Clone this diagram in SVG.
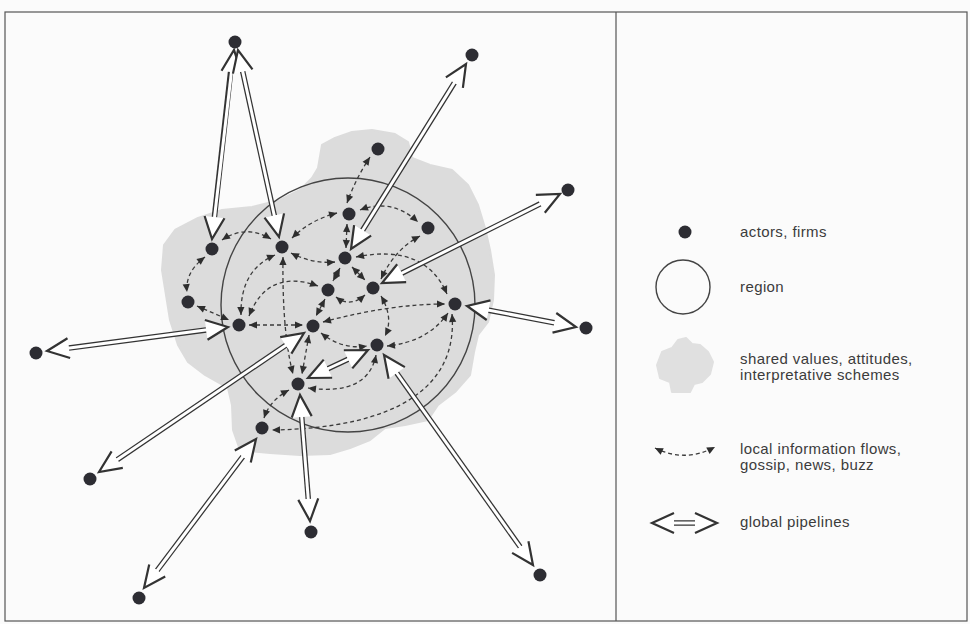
<svg xmlns="http://www.w3.org/2000/svg" width="970" height="624" viewBox="0 0 970 624">
<style>
.bg{fill:#fbfbfb}
.frame{fill:none;stroke:#555;stroke-width:1.2}
.blob{fill:#dcdcdc;stroke:#dcdcdc;stroke-width:2;stroke-linejoin:round}
.region{fill:none;stroke:#444;stroke-width:1.4}
.actor{fill:#2d2d33}
.flow{fill:none;stroke:#3a3a3a;stroke-width:1.3;stroke-dasharray:4 3;marker-start:url(#da);marker-end:url(#da)}
.pipeOut{fill:none;stroke:#333;stroke-width:5.5}
.pipeIn{fill:none;stroke:#fff;stroke-width:3;marker-start:url(#ph);marker-end:url(#ph)}
.lbl{font-family:"Liberation Sans",Arial,sans-serif;font-size:15px;letter-spacing:0.4px;fill:#3c3c3c}
</style>
<defs>
<marker id="da" markerUnits="userSpaceOnUse" orient="auto-start-reverse" refX="0" refY="0" markerWidth="12" markerHeight="12" overflow="visible"><path d="M0,0 L-8,-3.6 L-8,3.6 Z" fill="#2e2e2e"/></marker>
<marker id="ph" markerUnits="userSpaceOnUse" orient="auto-start-reverse" refX="0" refY="0" markerWidth="30" markerHeight="30" overflow="visible"><path d="M0,0 L-22,-10 L-22,10 Z" fill="#fff"/><path d="M-22,-10 L0,0 L-22,10" fill="none" stroke="#333" stroke-width="2.2" stroke-linejoin="miter"/></marker>
</defs>
<rect class="bg" x="0" y="0" width="970" height="624"/>
<rect class="frame" x="5" y="12" width="962" height="609"/>
<line class="frame" x1="616" y1="12" x2="616" y2="621"/>

<g id="shared-values">
<path class="blob" d="M318,168 L322,145 L335,138 L352,132 L372,130 L395,134 L408,142 L412,158 L430,165 L452,170 L468,185 L478,205 L485,228 L490,250 L494,275 L493,300 L488,322 L478,335 L474,352 L470,375 L455,392 L438,405 L428,420 L405,425 L385,428 L370,440 L350,448 L330,454 L300,455 L270,453 L240,450 L233,430 L232,405 L228,388 L205,375 L188,362 L178,345 L170,320 L166,295 L162,270 L164,245 L175,230 L198,218 L222,210 L252,207 L280,200 L300,190 L312,178 Z"/>
</g>
<g id="region">
<circle class="region" cx="348" cy="305" r="127"/>
</g>

<g id="connectors">
<g id="local-flows">
<path class="flow" d="M370,157 Q356,178 347,203"/>
<path class="flow" d="M222,240 Q246,224 271,239"/>
<path class="flow" d="M292,238 Q310,220 337,213"/>
<path class="flow" d="M360,210 Q392,198 418,222"/>
<path class="flow" d="M347,224 L346,248"/>
<path class="flow" d="M420,236 Q394,250 381,279"/>
<path class="flow" d="M291,253 Q312,264 335,262"/>
<path class="flow" d="M356,257 Q425,243 447,294"/>
<path class="flow" d="M340,268 L333,281"/>
<path class="flow" d="M352,267 L365,280"/>
<path class="flow" d="M205,257 Q185,272 187,292"/>
<path class="flow" d="M197,306 L229,320"/>
<path class="flow" d="M275,255 Q240,270 241,315"/>
<path class="flow" d="M318,286 Q268,268 249,316"/>
<path class="flow" d="M249,325 L303,325"/>
<path class="flow" d="M325,299 L316,316"/>
<path class="flow" d="M323,322 Q390,304 445,304"/>
<path class="flow" d="M321,333 Q342,350 367,346"/>
<path class="flow" d="M309,335 L302,374"/>
<path class="flow" d="M283,257 Q282,332 293,374"/>
<path class="flow" d="M381,296 Q394,318 385,336"/>
<path class="flow" d="M336,297 Q350,308 365,295"/>
<path class="flow" d="M448,313 Q428,342 387,346"/>
<path class="flow" d="M376,355 Q368,396 308,388"/>
<path class="flow" d="M452,314 C458,385 400,428 272,430"/>
<path class="flow" d="M289,390 Q270,400 264,418"/>
</g>
<g id="global-pipelines">
<path class="pipeOut" d="M230.6,71.9 L214.4,217.1"/><path class="pipeIn" d="M234,50 L212,239"/>
<path class="pipeOut" d="M242.7,71.5 L274.3,215.5"/><path class="pipeIn" d="M238,50 L279,237"/>
<path class="pipeOut" d="M454.4,82.7 L362.6,230.3"/><path class="pipeIn" d="M466,64 L351,249"/>
<path class="pipeOut" d="M540.3,203.8 L401.7,273.2"/><path class="pipeIn" d="M560,194 L382,283"/>
<path class="pipeOut" d="M488.6,310.2 L554.4,322.8"/><path class="pipeIn" d="M467,306 L576,327"/>
<path class="pipeOut" d="M68.8,348.1 L206.2,329.9"/><path class="pipeIn" d="M47,351 L228,327"/>
<path class="pipeOut" d="M117.2,459.7 L285.8,345.3"/><path class="pipeIn" d="M99,472 L304,333"/>
<path class="pipeOut" d="M327.9,368.7 L348.1,359.3"/><path class="pipeIn" d="M308,378 L368,350"/>
<path class="pipeOut" d="M301.7,416.9 L308.3,499.1"/><path class="pipeIn" d="M300,395 L310,521"/>
<path class="pipeOut" d="M242.8,456.6 L157.2,570.4"/><path class="pipeIn" d="M256,439 L144,588"/>
<path class="pipeOut" d="M396.7,373 L520.3,547"/><path class="pipeIn" d="M384,355 L533,565"/>
</g>
</g>

<g id="actors">
<g id="n1"><circle class="actor" cx="235" cy="42" r="6.5"/></g>
<g id="n2"><circle class="actor" cx="472" cy="55" r="6.5"/></g>
<g id="n3"><circle class="actor" cx="378" cy="149" r="6.5"/></g>
<g id="n4"><circle class="actor" cx="568" cy="190" r="6.5"/></g>
<g id="n5"><circle class="actor" cx="212" cy="249" r="6.5"/></g>
<g id="n6"><circle class="actor" cx="282" cy="247" r="6.5"/></g>
<g id="n7"><circle class="actor" cx="349" cy="214" r="6.5"/></g>
<g id="n8"><circle class="actor" cx="428" cy="228" r="6.5"/></g>
<g id="n9"><circle class="actor" cx="345" cy="258" r="6.5"/></g>
<g id="n10"><circle class="actor" cx="188" cy="302" r="6.5"/></g>
<g id="n11"><circle class="actor" cx="328" cy="290" r="6.5"/></g>
<g id="n12"><circle class="actor" cx="373" cy="288" r="6.5"/></g>
<g id="n13"><circle class="actor" cx="455" cy="304" r="6.5"/></g>
<g id="n14"><circle class="actor" cx="239" cy="325" r="6.5"/></g>
<g id="n15"><circle class="actor" cx="313" cy="326" r="6.5"/></g>
<g id="n16"><circle class="actor" cx="586" cy="328" r="6.5"/></g>
<g id="n17"><circle class="actor" cx="36" cy="353" r="6.5"/></g>
<g id="n18"><circle class="actor" cx="377" cy="345" r="6.5"/></g>
<g id="n19"><circle class="actor" cx="298" cy="384" r="6.5"/></g>
<g id="n20"><circle class="actor" cx="262" cy="428" r="6.5"/></g>
<g id="n21"><circle class="actor" cx="90" cy="479" r="6.5"/></g>
<g id="n22"><circle class="actor" cx="311" cy="532" r="6.5"/></g>
<g id="n23"><circle class="actor" cx="540" cy="575" r="6.5"/></g>
<g id="n24"><circle class="actor" cx="139" cy="598" r="6.5"/></g>
</g>

<g id="legend">
<g id="legend-actor"><circle class="actor" cx="685" cy="232" r="6.5"/><text class="lbl" x="740" y="237">actors, firms</text></g>
<g id="legend-region"><circle class="region" cx="683" cy="287" r="27"/><text class="lbl" x="740" y="292">region</text></g>
<g id="legend-shared"><path d="M672,392 L670,382 L660,378 L657,365 L662,352 L672,348 L678,340 L686,338 L692,344 L700,345 L708,352 L713,362 L710,374 L702,382 L694,384 L690,392 Z" fill="#e0e0e0" stroke="#e0e0e0" stroke-width="2" stroke-linejoin="round"/><text class="lbl" x="740" y="364">shared values, attitudes,</text><text class="lbl" x="740" y="380">interpretative schemes</text></g>
<g id="legend-flow"><path class="flow" d="M655,448 Q685,463 715,447"/><text class="lbl" x="740" y="454">local information flows,</text><text class="lbl" x="740" y="470">gossip, news, buzz</text></g>
<g id="legend-pipeline"><path class="pipeOut" d="M674,523 L695,523"/><path class="pipeIn" d="M652,523 L717,523"/><text class="lbl" x="740" y="527">global pipelines</text></g>
</g>
</svg>
